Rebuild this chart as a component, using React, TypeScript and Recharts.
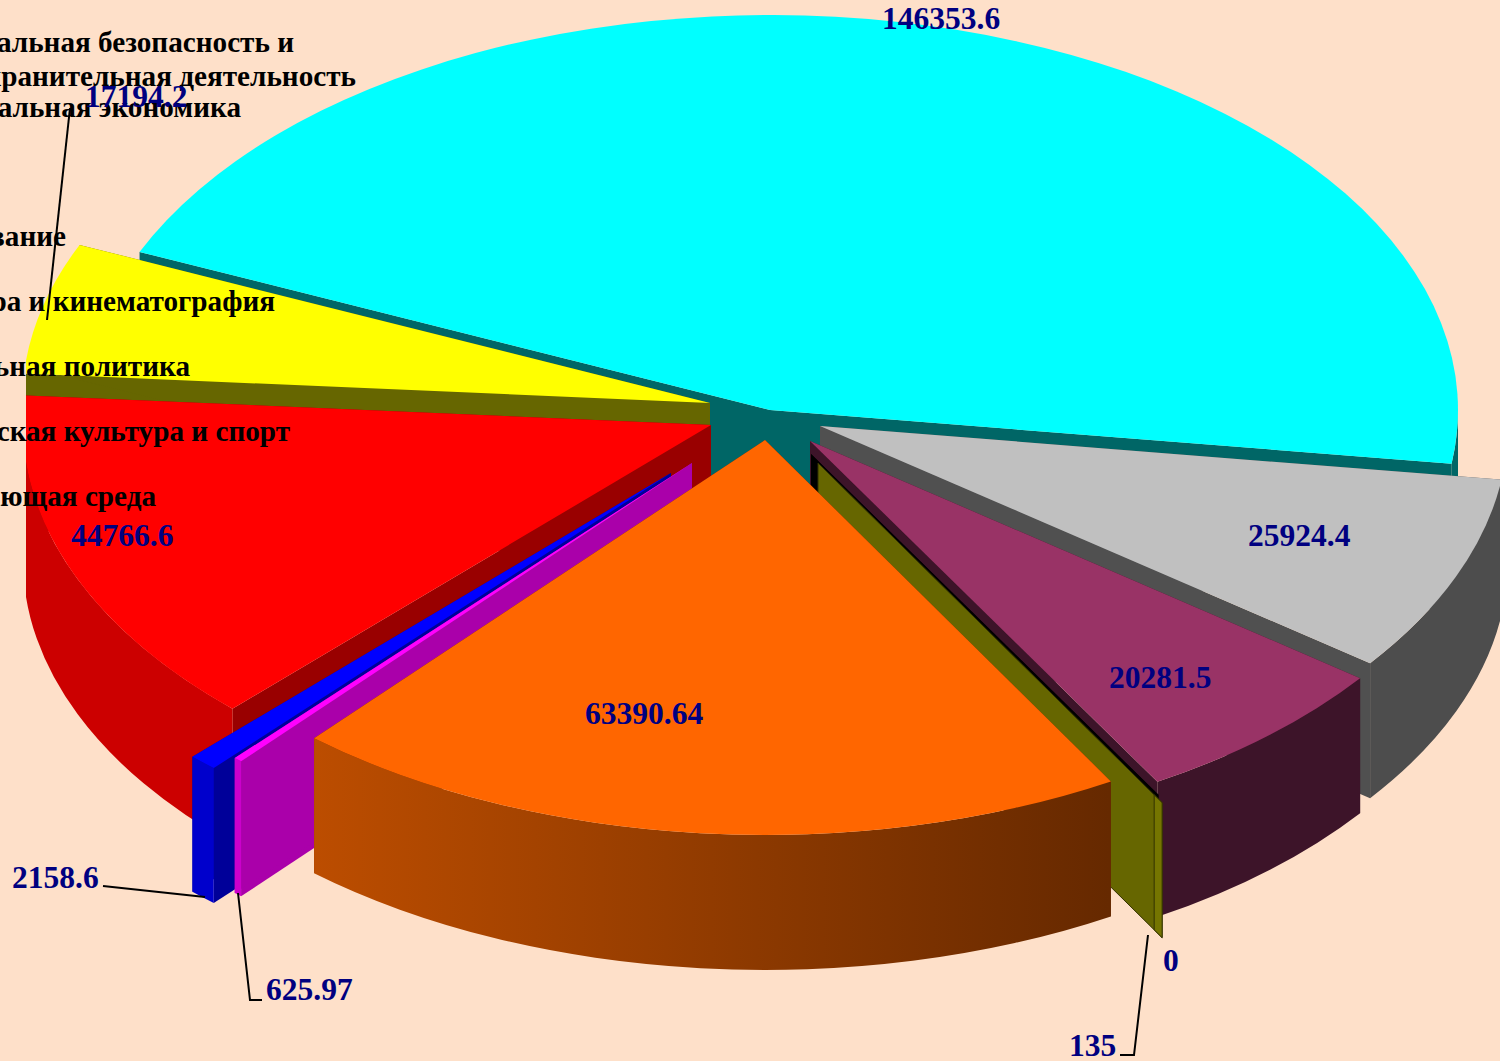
import React from 'react'
import { Pie, PieChart } from 'recharts'

const sliceNames = ['a', 'b', 'c', 'd', 'e', 'f', 'g', 'h', 'i', 'j']
const sliceValues = [146353.6, 25924.4, 20281.5, 0, 135, 63390.64, 625.97, 2158.6, 44766.6, 17194.2]
const valueLabels = ['146353.6', '25924.4', '20281.5', '0', '135', '63390.64', '625.97', '2158.6', '44766.6', '17194.2']
const legendLines = [
  'Социальная безопасность и',
  'правоохранительная деятельность',
  'Национальная экономика',
  'Образование',
  'Культура и кинематография',
  'Социальная политика',
  'Физическая культура и спорт',
  'Окружающая среда',
]

const data = sliceNames.map((name, i) => ({ name, value: sliceValues[i] }))

// look of the 3D slices
const topColors = ['#00FFFF', '#C0C0C0', '#993366', '#000000', '#666600', '#FF6600', '#FF00FF', '#0000FF', '#FF0000', '#FFFF00']
const cutColors = ['#006666', '#505050', '#3D1429', '#000000', '#666600', '#662900', '#AA00AA', '#000099', '#990000', '#666600']
const rimColors = ['#006666', '#4D4D4D', '#3D1429', '#000000', '#757500', 'url(#orangeRim)', '#CC00CC', '#0000CC', '#CC0000', '#666600']
const explode = [[0, 0], [50, 16], [40, 31], [41, 44], [48, 53], [-5, 30], [-78, 53], [-99, 63], [-59, 15], [-60, -7]]
const drawOrder = [0, 9, 1, 8, 2, 3, 4, 7, 6, 5]

const CX = 770
const CY = 410
const RADIUS = 688
const SQUASH = 0.574
const DEPTH = 135
const START_ANGLE = 156.4
const THIN_SLICE = 4

const legendRight = [294, 356, 241, 66, 275, 190, 290, 156]
const legendBase = [52, 86, 117, 246, 311, 376, 441, 506]
const labelPos = [[882, 29], [1248, 546], [1109, 688], [1163, 971], [1069, 1056], [585, 724], [266, 1000], [12, 888], [71, 546], [85, 107]]
const leaders: Record<number, string> = {
  4: '1120,1055 1134,1055 1148,935',
  6: '262,1000 250,1000 238,893',
  7: '103,886 205,897',
  9: '70,108 47,320',
}

const rad = Math.PI / 180

function Slice3D(props: any) {
  const { startAngle, endAngle, outerRadius, cx, cy, index } = props
  const ox = cx + explode[index][0]
  const oy = cy + explode[index][1]
  const ry = outerRadius * SQUASH
  const pt = (a: number, k = 1) => [ox + k * outerRadius * Math.cos(a * rad), oy - k * ry * Math.sin(a * rad)]
  const [sx, sy] = pt(startAngle)
  const [ex, ey] = pt(endAngle)
  const large = startAngle - endAngle > 180 ? 1 : 0
  const wall = (x: number, y: number) =>
    `${ox},${oy} ${x},${y} ${x},${y + DEPTH} ${ox},${oy + DEPTH}`

  // the 135 slice is too thin for a top, it only shows its cut with a lighter end
  if (index === THIN_SLICE) {
    const [mx, my] = pt(endAngle, 0.972)
    const [fx, fy] = pt(endAngle, 0.995)
    return (
      <g>
        <polygon points={wall(fx, fy)} fill={cutColors[index]} stroke="#333300" strokeWidth={1} />
        <polygon
          points={`${mx},${my} ${fx},${fy} ${fx},${fy + DEPTH} ${mx},${my + DEPTH}`}
          fill={rimColors[index]}
          stroke="#333300"
          strokeWidth={1}
        />
      </g>
    )
  }

  const frontFrom = Math.min(startAngle, 0)
  const frontTo = Math.max(endAngle, -180)
  let rim = null
  if (frontFrom > frontTo) {
    const [ax, ay] = pt(frontFrom)
    const [bx, by] = pt(frontTo)
    rim = (
      <path
        d={`M${ax},${ay} A${outerRadius},${ry} 0 0 1 ${bx},${by} L${bx},${by + DEPTH} A${outerRadius},${ry} 0 0 0 ${ax},${ay + DEPTH} Z`}
        fill={rimColors[index]}
      />
    )
  }

  return (
    <g clipPath="url(#pieClip)">
      <polygon points={wall(sx, sy)} fill={cutColors[index]} />
      <polygon points={wall(ex, ey)} fill={cutColors[index]} />
      {rim}
      <path
        d={`M${ox},${oy} L${sx},${sy} A${outerRadius},${ry} 0 ${large} 1 ${ex},${ey} Z`}
        fill={topColors[index]}
      />
    </g>
  )
}

function ValueLabel(props: any) {
  const { index } = props
  const [x, y] = labelPos[index]
  return (
    <g>
      {leaders[index] ? <polyline points={leaders[index]} fill="none" stroke="#000" strokeWidth={2} /> : null}
      <text x={x} y={y} fill="#000080" fontFamily="Liberation Serif" fontWeight="bold" fontSize={31.5}>
        {valueLabels[index]}
      </text>
    </g>
  )
}

export default function App() {
  return (
    <div style={{ position: 'absolute', left: 0, top: 0, width: 1500, height: 1061, background: '#FEE0C9', overflow: 'hidden' }}>
      <PieChart width={1500} height={1061} margin={{ top: 0, right: 0, bottom: 0, left: 0 }}>
        <defs>
          <clipPath id="pieClip">
            <rect x={26} y={0} width={1600} height={1061} />
          </clipPath>
          <linearGradient id="orangeRim" gradientUnits="userSpaceOnUse" x1={314} y1={0} x2={1109} y2={0}>
            <stop offset="0" stopColor="#BC4D00" />
            <stop offset="1" stopColor="#662900" />
          </linearGradient>
        </defs>
        {drawOrder.map((rank) => (
          <Pie
            key={rank}
            data={data}
            dataKey="value"
            cx={CX}
            cy={CY}
            innerRadius={0}
            outerRadius={RADIUS}
            startAngle={START_ANGLE}
            endAngle={START_ANGLE - 360}
            stroke="none"
            zIndex={-1}
            isAnimationActive={false}
            shape={(props: any) => (props.index === rank ? <Slice3D {...props} /> : <g />)}
          />
        ))}
        {legendLines.map((line, i) => (
          <text
            key={line}
            x={legendRight[i]}
            y={legendBase[i]}
            textAnchor="end"
            fill="#000"
            fontFamily="Liberation Serif"
            fontWeight="bold"
            fontSize={29.2}
          >
            {line}
          </text>
        ))}
        <Pie
          data={data}
          dataKey="value"
          cx={CX}
          cy={CY}
          innerRadius={0}
          outerRadius={RADIUS}
          startAngle={START_ANGLE}
          endAngle={START_ANGLE - 360}
          fill="none"
          stroke="none"
          isAnimationActive={false}
          labelLine={false}
          label={(props: any) => <ValueLabel {...props} />}
        />
      </PieChart>
    </div>
  )
}
